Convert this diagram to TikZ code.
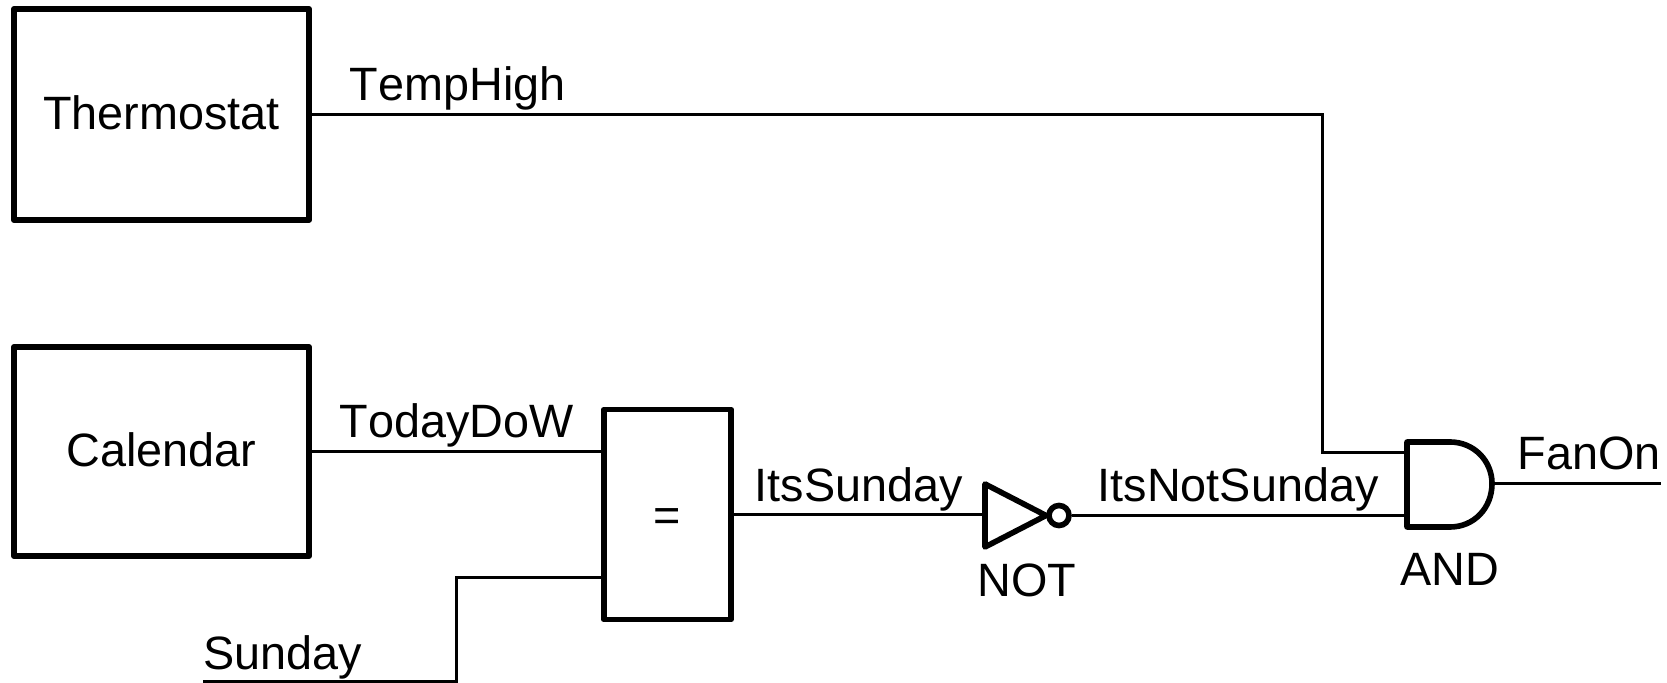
\documentclass[tikz,border=0pt]{standalone}
\usepackage{fontspec}
\setmainfont[Kerning=Off]{Liberation Sans}
\usepackage{tikz}
\usetikzlibrary{positioning}
\tikzset{
  wire/.style={line width=0.85pt},
  gate/.style={line width=1.6pt,line join=round},
  block/.style={draw,line width=1.6pt,line join=round,inner sep=0pt,text height=0.35cm,text depth=0.05cm,font=\fontsize{13.3}{16}\selectfont},
  lab/.style={anchor=base west,inner sep=0pt,font=\fontsize{13.3}{16}\selectfont}
}
\begin{document}
\begin{tikzpicture}[x=0.01cm,y=-0.01cm]
      \useasboundingbox (0,0) rectangle (1667,683);
      % blocks
      \node[block,minimum width=2.95cm,minimum height=2.11cm] (thermostat) at (161.5,114.5) {Thermostat};
      \node[block,minimum width=2.95cm,minimum height=2.09cm] (calendar) at (161.5,451.5) {Calendar};
      \node[block,text height=0.39cm,minimum width=1.27cm,minimum height=2.10cm] (eqbox) at (667.5,514.5) {=};
      % gate pins
      \coordinate (eqa) at (604,451.5); \coordinate (eqb) at (604,577.5);
      \coordinate (nota) at (985,515); \coordinate (notb) at (1046,515.5);
      \coordinate (notc) at (985,484); \coordinate (notd) at (985,547);
      \coordinate (anda) at (1407,453); \coordinate (andb) at (1407,515.5);
      \coordinate (andc) at (1492,483.5); \coordinate (fanend) at (1661,483.5);
      \coordinate (tbend) at (1322,453); \coordinate (sbend) at (456,577.5);
      \coordinate (sunend) at (203,681.5);
      % gates
      \draw[gate] (notc) -- (notb) -- (notd) -- cycle;
      \node[draw,circle,line width=1.6pt,minimum size=0.2cm,inner sep=0pt] (bubble) at (1059,515.5) {};
      \draw[gate] (1450,442) -- (1407,442) -- (1407,527) -- (1450,527)
        .. controls (1474,527) and (1492,508) .. (andc)
        .. controls (1492,461) and (1474,442) .. (1450,442) -- cycle;
      % connectors
      \draw[wire] (thermostat.east) -| (tbend) -- (anda);
      \draw[wire] (calendar.east) -- (eqa);
      \draw[wire] (sunend) -| (sbend) -- (eqb);
      \draw[wire] (eqbox.east |- nota) -- (nota);
      \draw[wire] (bubble) -- (andb);
      \draw[wire] (andc) -- (fanend);
      % labels
      \node[lab] (ltemp) at (349,101) {TempHigh};
      \node[lab] (ldow) at (339,438) {TodayDoW};
      \node[lab] (lsun) at (203,669.5) {Sunday};
      \node[lab] (lits) at (754,501.5) {ItsSunday};
      \node[lab] (lnot) at (1097,502) {ItsNotSunday};
      \node[lab] (lfan) at (1517,470) {FanOn};
      \node[lab] (gnot) at (977,597) {NOT};
      \node[lab] (gand) at (1400,586) {AND};
    \end{tikzpicture}
\end{document}
